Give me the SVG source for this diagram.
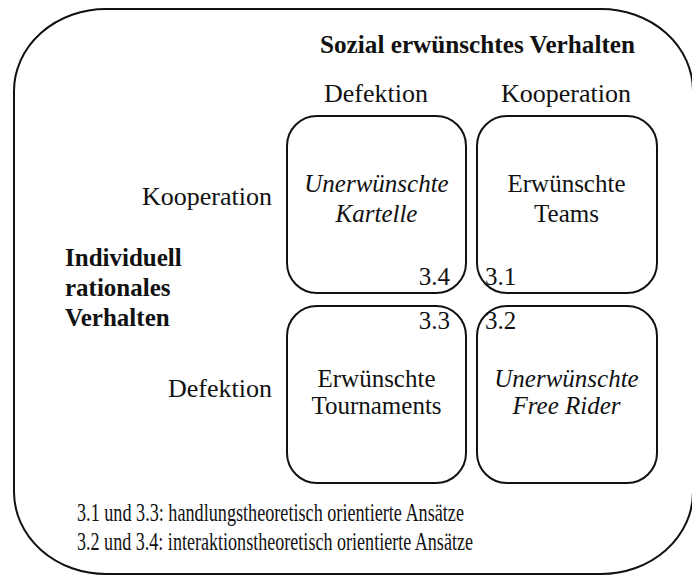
<svg xmlns="http://www.w3.org/2000/svg" width="692" height="576" viewBox="0 0 692 576">
<style>
text{font-family:"Liberation Serif","Times New Roman",serif;fill:#111;font-size:25px}
.b{font-weight:bold}
.i{font-style:italic}
.m{text-anchor:middle}
.e{text-anchor:end}
.h{font-size:26px}
.box{fill:none;stroke:#111;stroke-width:2}
</style>
<rect width="692" height="576" fill="#fff"/>
<g id="frame">
<rect class="box" x="14" y="9" width="679" height="565" rx="92" ry="82"/>
<text class="b" x="320" y="53" textLength="315" lengthAdjust="spacingAndGlyphs">Sozial erwünschtes Verhalten</text>
<text class="m h" x="376" y="102">Defektion</text>
<text class="m h" x="566" y="102">Kooperation</text>
<text class="e h" x="272" y="205">Kooperation</text>
<text class="e h" x="272" y="397">Defektion</text>
<text class="b" x="65" y="266">Individuell</text>
<text class="b" x="65" y="296">rationales</text>
<text class="b" x="65" y="326">Verhalten</text>
</g>
<g id="kartelle">
<rect class="box" x="287" y="116" width="179" height="177" rx="30"/>
<text class="i m" x="376.5" y="192">Unerwünschte</text>
<text class="i m" x="376.5" y="222">Kartelle</text>
<text class="e" x="450" y="285">3.4</text>
</g>
<g id="teams">
<rect class="box" x="477" y="116" width="180" height="177" rx="30"/>
<text class="m" x="566.5" y="192">Erwünschte</text>
<text class="m" x="566.5" y="222">Teams</text>
<text x="485" y="285">3.1</text>
</g>
<g id="tournaments">
<rect class="box" x="287" y="306" width="179" height="177" rx="30"/>
<text class="m" x="376.5" y="387">Erwünschte</text>
<text class="m" x="376.5" y="414">Tournaments</text>
<text class="e" x="450" y="329">3.3</text>
</g>
<g id="freerider">
<rect class="box" x="477" y="306" width="180" height="177" rx="30"/>
<text class="i m" x="566.5" y="387">Unerwünschte</text>
<text class="i m" x="566.5" y="414">Free Rider</text>
<text x="485" y="329">3.2</text>
</g>
<g id="legend">
<text x="77" y="521" textLength="387" lengthAdjust="spacingAndGlyphs">3.1 und 3.3: handlungstheoretisch orientierte Ansätze</text>
<text x="77" y="550" textLength="396" lengthAdjust="spacingAndGlyphs">3.2 und 3.4: interaktionstheoretisch orientierte Ansätze</text>
</g>
<g id="connectors"/>
</svg>
